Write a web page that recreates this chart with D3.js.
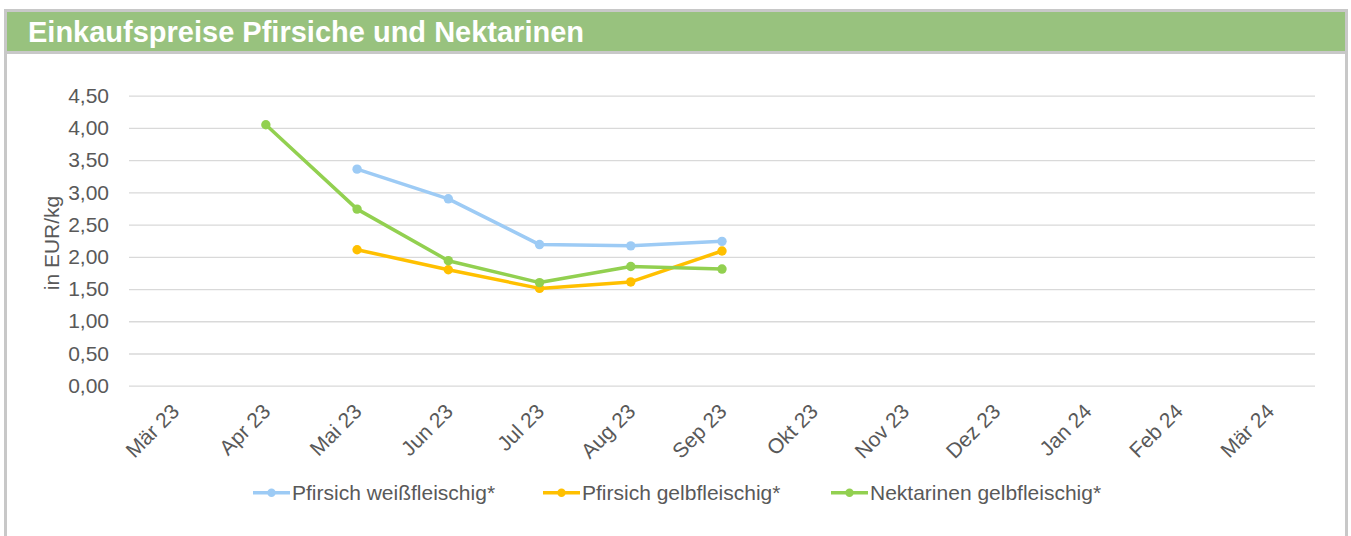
<!DOCTYPE html>
<html>
<head>
<meta charset="utf-8">
<script src="https://cdn.jsdelivr.net/npm/d3@7"></script>
<style>
  html, body { margin: 0; padding: 0; background: #fff; }
  svg { display: block; font-family: "Liberation Sans", Arial, sans-serif; }
</style>
</head>
<body>
<svg id="chart" width="1351" height="536"></svg>
<script>
const title = "Einkaufspreise Pfirsiche und Nektarinen";
const yAxisTitle = "in EUR/kg";
const months = ["Mär 23","Apr 23","Mai 23","Jun 23","Jul 23","Aug 23","Sep 23","Okt 23","Nov 23","Dez 23","Jan 24","Feb 24","Mär 24"];
const seriesNames = ["Pfirsich weißfleischig*","Pfirsich gelbfleischig*","Nektarinen gelbfleischig*"];
const pfirsichWeiss = [null, null, 3.36, 2.90, 2.19, 2.17, 2.24, null, null, null, null, null, null];
const pfirsichGelb  = [null, null, 2.11, 1.80, 1.51, 1.61, 2.09, null, null, null, null, null, null];
const nektarinen    = [null, 4.05, 2.74, 1.94, 1.60, 1.85, 1.81, null, null, null, null, null, null];
const yTicks = [0, 0.5, 1, 1.5, 2, 2.5, 3, 3.5, 4, 4.5];
const colors = ["#9DCBF5", "#FFC000", "#92D050"];

const svg = d3.select("#chart");
const W = 1351, H = 536;

// frame
svg.append("rect").attr("x", 0).attr("y", 0).attr("width", W).attr("height", H).attr("fill", "#fff");
svg.append("rect").attr("x", 5.5).attr("y", 10.5).attr("width", 1341).attr("height", 560)
  .attr("fill", "none").attr("stroke", "#C8C8C8").attr("stroke-width", 3);
svg.append("rect").attr("x", 7).attr("y", 12).attr("width", 1338).attr("height", 39).attr("fill", "#98C27E");
svg.append("rect").attr("x", 7).attr("y", 51).attr("width", 1338).attr("height", 3).attr("fill", "#C8C8C8");
svg.append("text").attr("x", 28).attr("y", 42).text(title)
  .attr("fill", "#fff").attr("font-weight", "bold").attr("font-size", 29);

const x = d3.scaleBand().domain(months).range([129, 1315]).padding(0);
const cx = m => x(m) + x.bandwidth() / 2;
const y = d3.scaleLinear().domain([0, 4.5]).range([385.7, 95.7]);
const fmt = v => d3.format(".2f")(v).replace(".", ",");

// gridlines
const yAxis = d3.axisLeft(y).tickValues(yTicks).tickSize(-(1315 - 129)).tickFormat(fmt).tickPadding(20);
const gy = svg.append("g").attr("transform", "translate(129,0)").call(yAxis);
gy.select(".domain").remove();
gy.selectAll(".tick line").attr("stroke", "#D9D9D9").attr("stroke-width", 1.3);
gy.selectAll(".tick text").attr("fill", "#595959").attr("font-size", 21)
  .attr("font-family", "'Liberation Sans', Arial, sans-serif").attr("x", -20);

// x labels
const xAxis = d3.axisBottom(x).tickSize(0).tickPadding(0);
const gx = svg.append("g").attr("transform", "translate(0,385.7)").call(xAxis);
gx.select(".domain").remove();
gx.selectAll(".tick text")
  .attr("fill", "#595959").attr("font-size", 21)
  .attr("font-family", "'Liberation Sans', Arial, sans-serif")
  .attr("text-anchor", "end").attr("dy", 0).attr("y", 0)
  .attr("transform", "translate(6,27) rotate(-45)");

// y-axis title
svg.append("text").attr("transform", "translate(59,243) rotate(-90)")
  .attr("text-anchor", "middle").attr("fill", "#595959").attr("font-size", 21).text(yAxisTitle);

// series
const allSeries = [pfirsichWeiss, pfirsichGelb, nektarinen];
const line = d3.line().defined(d => d.v != null).x(d => cx(d.m)).y(d => y(d.v));
allSeries.forEach((vals, i) => {
  const pts = months.map((m, j) => ({ m, v: vals[j] }));
  svg.append("path").datum(pts).attr("d", line)
    .attr("fill", "none").attr("stroke", colors[i]).attr("stroke-width", 3.5)
    .attr("stroke-linejoin", "round").attr("stroke-linecap", "round");
  svg.append("g").selectAll("circle").data(pts.filter(d => d.v != null)).join("circle")
    .attr("cx", d => cx(d.m)).attr("cy", d => y(d.v)).attr("r", 4.7).attr("fill", colors[i]);
});

// legend
const legendX = [253, 543, 831];
const legendY = 492.7;
seriesNames.forEach((name, i) => {
  const g = svg.append("g").attr("transform", `translate(${legendX[i]},${legendY})`);
  g.append("line").attr("x1", 0).attr("x2", 37).attr("y1", 0).attr("y2", 0)
    .attr("stroke", colors[i]).attr("stroke-width", 3.5);
  g.append("circle").attr("cx", 18.5).attr("cy", 0).attr("r", 4.2).attr("fill", colors[i]);
  g.append("text").attr("x", 39).attr("y", 7.3).attr("fill", "#595959").attr("font-size", 21).text(name);
});
</script>
</body>
</html>
